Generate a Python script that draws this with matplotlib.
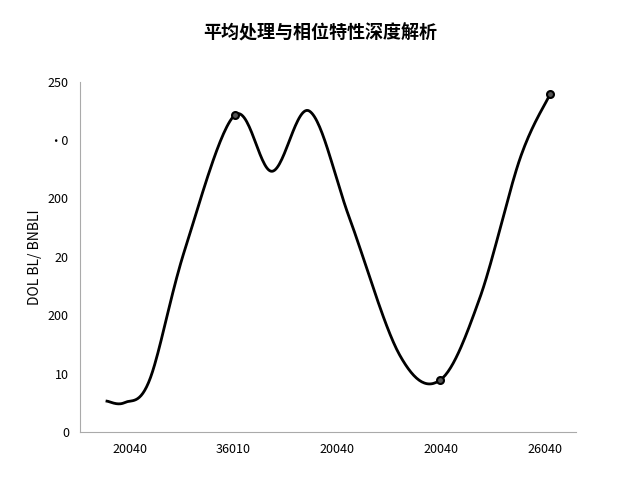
import numpy as np
import matplotlib
matplotlib.use("Agg")
import matplotlib.pyplot as plt
plt.rcParams['font.family'] = ['Noto Sans CJK SC', 'DejaVu Sans']

title = "平均处理与相位特性深度解析"
ylabel = "DOL BL/ BNBLI"
xtick_labels = ["20040", "36010", "20040", "20040", "26040"]
ytick_labels = ["0", "10", "200", "20", "200", "·0", "250"]
curve_x = [-0.22, -0.05, 0.19, 0.53, 1.01, 1.37, 1.73, 2.12, 2.60, 2.99, 3.37, 3.76, 4.05]
curve_y = [22, 21, 37, 130, 226, 186, 229, 152, 55, 37, 95, 195, 241]
marker_x = [1.01, 2.99, 4.05]
marker_y = [226, 37, 241]

def catmull(xs, ys, n=30):
    P = np.column_stack([xs, ys]).astype(float)
    P = np.vstack([P[0], P, P[-1]])
    out = []
    for i in range(1, len(P) - 2):
        p0, p1, p2, p3 = P[i-1], P[i], P[i+1], P[i+2]
        for t in np.linspace(0, 1, n, endpoint=False):
            out.append(0.5 * ((2*p1) + (-p0+p2)*t + (2*p0-5*p1+4*p2-p3)*t**2 + (-p0+3*p1-3*p2+p3)*t**3))
    out.append(P[-2])
    out = np.array(out)
    return out[:, 0], out[:, 1]

fig = plt.figure(figsize=(6.4, 4.8), dpi=100)
ax = fig.add_axes([0.125, 0.1, 0.775, 0.73])
sx, sy = catmull(curve_x, curve_y)
ax.plot(sx, sy, color='black', lw=2)
ax.scatter(marker_x, marker_y, s=25, facecolor='#555', edgecolor='black', lw=1.5, zorder=3)
ax.set_xlim(-0.48, 4.3)
ax.set_ylim(0, 250)
ax.set_xticks(range(5))
ax.set_xticklabels(xtick_labels, fontsize=9)
ax.set_yticks(np.linspace(0, 250, 7))
ax.set_yticklabels(ytick_labels, fontsize=9)
ax.tick_params(length=0, pad=8)
for s in ['top', 'right']:
    ax.spines[s].set_visible(False)
for s in ['left', 'bottom']:
    ax.spines[s].set_color('#aaaaaa')
ax.set_ylabel(ylabel, fontsize=10)
fig.suptitle(title, fontsize=13, fontweight='bold', y=0.95)
fig.savefig("out.png", dpi=100)
